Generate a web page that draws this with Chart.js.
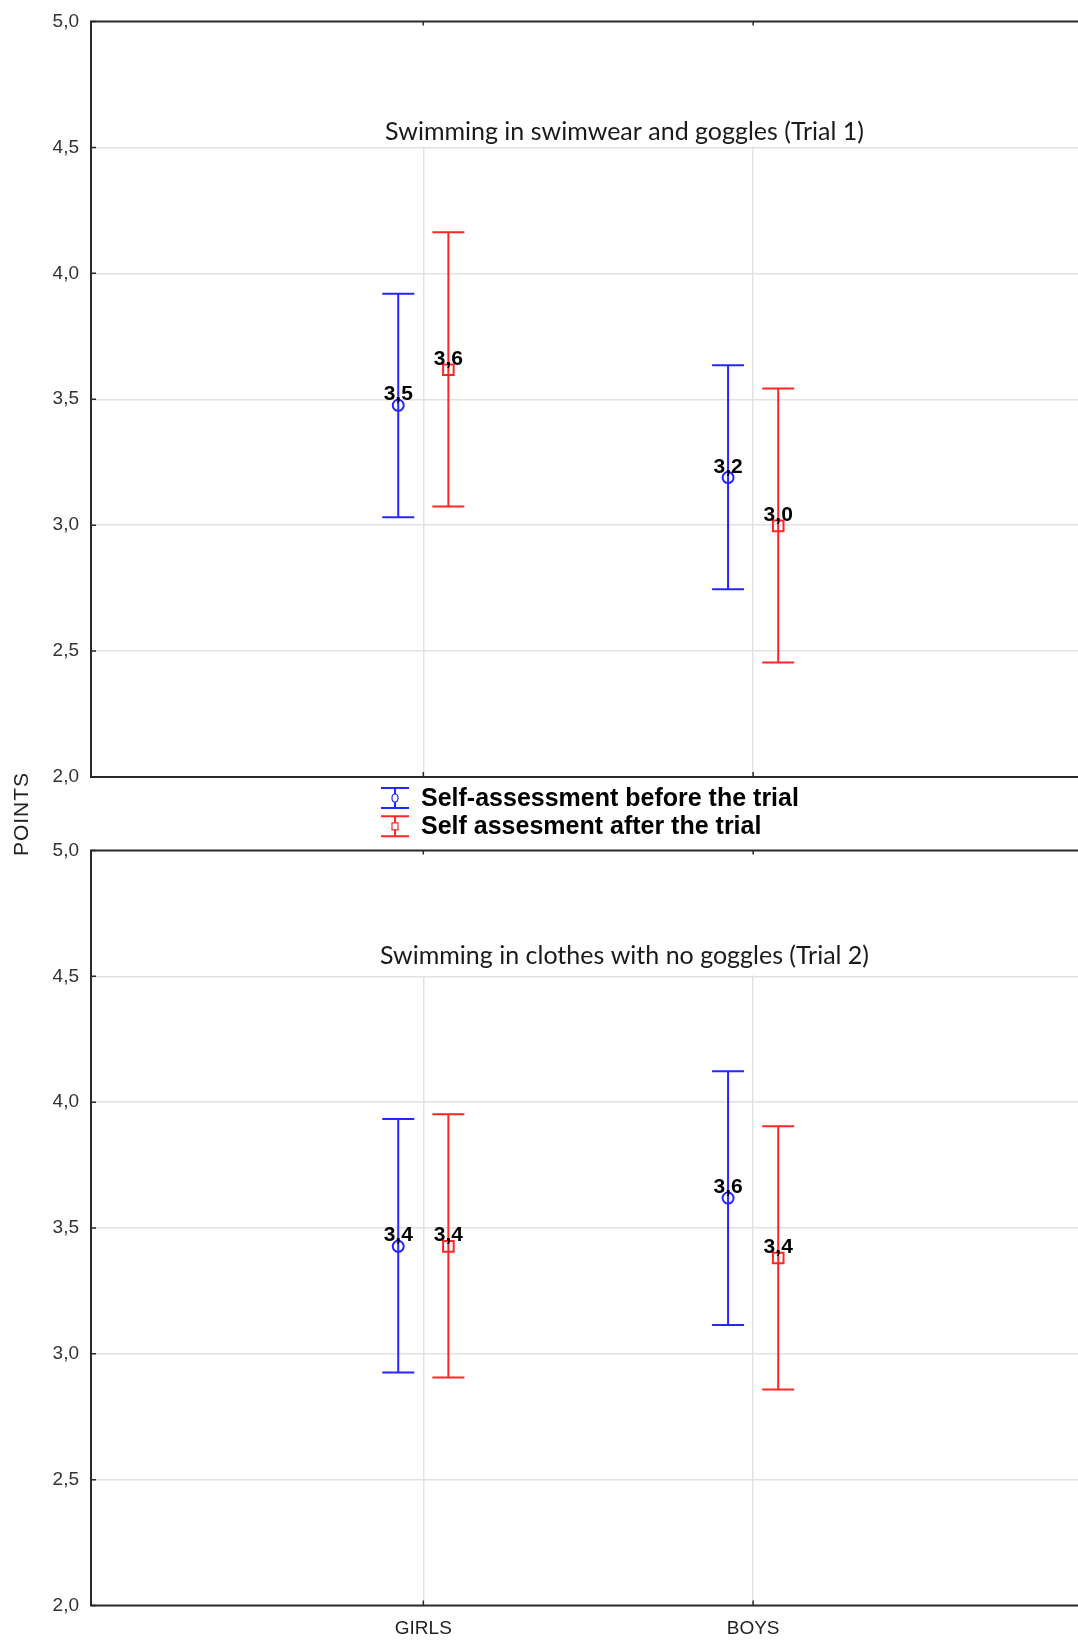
<!DOCTYPE html>
<html>
<head>
<meta charset="utf-8">
<title>Self-assessment before and after the trial</title>
<script src="https://cdn.jsdelivr.net/npm/chart.js@4.4.0/dist/chart.umd.min.js"></script>
<style>
  html, body { margin: 0; padding: 0; background: #fff; }
  #wrap { position: relative; width: 1078px; height: 1641px; overflow: hidden; }
  .box { position: absolute; left: 0; }
  #box1 { top: 0; }
  #box2 { top: 830px; }
  #yTitle {
    position: absolute; left: -39px; top: 802px; width: 120px; height: 24px;
    line-height: 24px; text-align: center; transform: rotate(-90deg);
    font: 21px "Liberation Sans", Arial, sans-serif; color: #222; letter-spacing: 1px;
  }
</style>
</head>
<body>
<div id="wrap">
  <div class="box" id="box1"><canvas id="trial1" width="1090" height="845"></canvas></div>
  <div class="box" id="box2"><canvas id="trial2" width="1090" height="811"></canvas></div>
  <div id="yTitle">POINTS</div>
</div>
<script>
// data
const groups = ['GIRLS', 'BOYS'];
const seriesNames = ['Self-assessment before the trial', 'Self assesment after the trial'];
const titles = ['Swimming in swimwear and goggles (Trial 1)', 'Swimming in clothes with no goggles (Trial 2)'];

const trial1Before = [3.476, 3.189];
const trial1BeforeLow = [3.031, 2.746];
const trial1BeforeHigh = [3.919, 3.635];
const trial1After = [3.617, 2.997];
const trial1AfterLow = [3.074, 2.455];
const trial1AfterHigh = [4.163, 3.543];

const trial2Before = [3.427, 3.619];
const trial2BeforeLow = [2.926, 3.115];
const trial2BeforeHigh = [3.933, 4.123];
const trial2After = [3.427, 3.381];
const trial2AfterLow = [2.906, 2.858];
const trial2AfterHigh = [3.952, 3.904];

// styling
const BLUE = '#2626ff';
const RED = '#ff2626';
const GRID = '#e2e2e2';
const AXIS = '#2a2a2a';
const GROUP_SHIFT = 0.076;   // side offset of the two series around each group
const TITLE_X = 1.61;
const CAP = 16;

const fmt = v => v.toFixed(1).replace('.', ',');

const toPoints = (means, side) => means.map((m, i) => ({ x: i + 1 + side * GROUP_SHIFT, y: m }));

// error bars, title band, labels, frame and legend
const decor = {
  id: 'decor',
  beforeDatasetsDraw(chart) {
    const { ctx, chartArea, scales: { x, y } } = chart;
    const opts = chart.options.plugins.decor;
    ctx.save();
    // white band behind the title (hides vertical grid above 4,5)
    ctx.fillStyle = '#fff';
    ctx.fillRect(chartArea.left + 1, chartArea.top + 1, chartArea.right - chartArea.left, y.getPixelForValue(4.5) - chartArea.top - 2);
    ctx.fillStyle = '#1a1a1a';
    ctx.font = '25px Lato, "Open Sans", sans-serif';
    ctx.textAlign = 'center';
    ctx.textBaseline = 'middle';
    ctx.fillText(opts.title, x.getPixelForValue(TITLE_X), y.getPixelForValue(opts.titleY));

    chart.data.datasets.forEach((ds, di) => {
      const meta = chart.getDatasetMeta(di);
      ctx.strokeStyle = ds.borderColor;
      ctx.lineWidth = 2;
      meta.data.forEach((pt, i) => {
        const lo = y.getPixelForValue(ds.errLow[i]);
        const hi = y.getPixelForValue(ds.errHigh[i]);
        ctx.beginPath();
        ctx.moveTo(pt.x, lo); ctx.lineTo(pt.x, hi);
        ctx.moveTo(pt.x - CAP, lo); ctx.lineTo(pt.x + CAP, lo);
        ctx.moveTo(pt.x - CAP, hi); ctx.lineTo(pt.x + CAP, hi);
        ctx.stroke();
      });
    });
    ctx.restore();
  },
  afterDatasetsDraw(chart) {
    const { ctx } = chart;
    ctx.save();
    ctx.fillStyle = '#000';
    ctx.font = 'bold 21px "Liberation Sans", Arial, sans-serif';
    ctx.textAlign = 'center';
    ctx.textBaseline = 'alphabetic';
    chart.data.datasets.forEach((ds, di) => {
      chart.getDatasetMeta(di).data.forEach((pt, i) => {
        ctx.fillText(fmt(ds.data[i].y), pt.x, pt.y - 5);
      });
    });
    ctx.restore();
  },
  afterDraw(chart) {
    const { ctx, chartArea: a, scales: { x, y } } = chart;
    ctx.save();
    ctx.strokeStyle = AXIS;
    ctx.lineWidth = 2;
    ctx.beginPath();
    ctx.moveTo(a.right, a.top); ctx.lineTo(a.left, a.top);
    ctx.lineTo(a.left, a.bottom); ctx.lineTo(a.right, a.bottom);
    ctx.stroke();
    // small inward ticks
    ctx.lineWidth = 1.5;
    ctx.beginPath();
    y.ticks.forEach(t => {
      const py = y.getPixelForValue(t.value);
      ctx.moveTo(a.left, py); ctx.lineTo(a.left + 5, py);
    });
    groups.forEach((g, i) => {
      const px = x.getPixelForValue(i + 1);
      ctx.moveTo(px, a.bottom); ctx.lineTo(px, a.bottom - 5);
      ctx.moveTo(px, a.top); ctx.lineTo(px, a.top + 4);
    });
    ctx.stroke();

    if (chart.options.plugins.decor.legend) {
      ctx.font = 'bold 25px "Liberation Sans", Arial, sans-serif';
      ctx.textAlign = 'left';
      ctx.textBaseline = 'middle';
      chart.data.datasets.forEach((ds, di) => {
        const cy = a.bottom + 21 + di * 28.3;
        const cx = 395;
        ctx.strokeStyle = ds.borderColor;
        ctx.lineWidth = 2;
        ctx.beginPath();
        ctx.moveTo(cx, cy - 10); ctx.lineTo(cx, cy + 10);
        ctx.moveTo(cx - 14, cy - 10); ctx.lineTo(cx + 14, cy - 10);
        ctx.moveTo(cx - 14, cy + 10); ctx.lineTo(cx + 14, cy + 10);
        ctx.stroke();
        ctx.lineWidth = 1.2;
        ctx.fillStyle = '#fff';
        ctx.beginPath();
        if (ds.pointStyle === 'rect') ctx.rect(cx - 3, cy - 3.5, 6, 7);
        else ctx.ellipse(cx, cy, 3, 4, 0, 0, Math.PI * 2);
        ctx.fill(); ctx.stroke();
        ctx.fillStyle = '#000';
        ctx.fillText(ds.label, 421, cy + 1);
      });
    }
    ctx.restore();
  }
};

const makeChart = (id, title, before, beforeLow, beforeHigh, after, afterLow, afterHigh, opts) => {
  const ctx = document.getElementById(id).getContext('2d');
  return new Chart(ctx, {
    type: 'scatter',
    data: {
      datasets: [{
        label: seriesNames[0],
        data: toPoints(before, -1),
        errLow: beforeLow,
        errHigh: beforeHigh,
        borderColor: BLUE,
        backgroundColor: 'rgba(255,255,255,0)',
        pointStyle: 'circle',
        pointRadius: 5.5,
        borderWidth: 2
      }, {
        label: seriesNames[1],
        data: toPoints(after, 1),
        errLow: afterLow,
        errHigh: afterHigh,
        borderColor: RED,
        backgroundColor: 'rgba(255,255,255,0)',
        pointStyle: 'rect',
        pointRadius: 7.5,
        borderWidth: 2
      }]
    },
    options: {
      responsive: false,
      animation: false,
      layout: { padding: opts.padding },
      plugins: {
        legend: { display: false },
        tooltip: { enabled: false },
        decor: { title: title, titleY: opts.titleY, legend: opts.legend }
      },
      scales: {
        x: {
          type: 'linear',
          min: -0.0075,
          max: 2.9925,
          border: { display: false },
          grid: { color: GRID, lineWidth: 1.5, drawTicks: false },
          afterBuildTicks: s => { s.ticks = groups.map((g, i) => ({ value: i + 1 })); },
          ticks: {
            display: opts.xLabels,
            padding: 12,
            color: '#222',
            font: { family: '"Liberation Sans", Arial, sans-serif', size: 19 },
            callback: v => groups[v - 1] || ''
          },
          afterFit: s => { s.height = opts.xHeight; s.paddingLeft = 0; s.paddingRight = 0; }
        },
        y: {
          min: 2,
          max: 5,
          border: { display: false },
          grid: { color: GRID, lineWidth: 1.5, drawTicks: false },
          ticks: {
            stepSize: 0.5,
            padding: 12,
            color: '#333',
            font: { family: '"Liberation Sans", Arial, sans-serif', size: 19 },
            callback: v => fmt(v)
          },
          afterFit: s => { s.width = 91; s.paddingTop = 0; s.paddingBottom = 0; }
        }
      }
    },
    plugins: [decor]
  });
};

makeChart('trial1', titles[0], trial1Before, trial1BeforeLow, trial1BeforeHigh, trial1After, trial1AfterLow, trial1AfterHigh,
  { padding: { left: 0, top: 21.5, right: 6, bottom: 68 }, legend: true, xLabels: false, xHeight: 0, titleY: 4.562 });
makeChart('trial2', titles[1], trial2Before, trial2BeforeLow, trial2BeforeHigh, trial2After, trial2AfterLow, trial2AfterHigh,
  { padding: { left: 0, top: 20.5, right: 6, bottom: 0 }, legend: false, xLabels: true, xHeight: 35.5, titleY: 4.582 });
</script>
</body>
</html>
